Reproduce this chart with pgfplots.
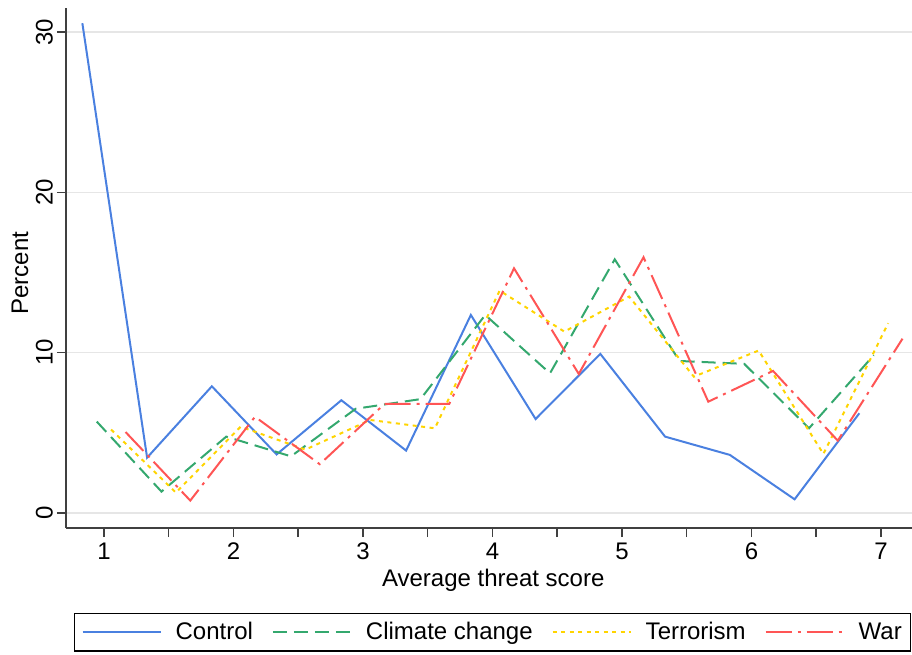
\documentclass[border=0pt]{standalone}
\usepackage{fontspec}
\setmainfont{Liberation Sans}
\usepackage{pgfplots}
\pgfplotsset{compat=1.18}
\definecolor{cblue}{RGB}{74,128,224}
\definecolor{cgreen}{RGB}{52,168,110}
\definecolor{cyellow}{RGB}{255,212,0}
\definecolor{cred}{RGB}{255,85,85}
\definecolor{axgray}{RGB}{64,64,64}
\definecolor{gridgray}{RGB}{230,230,230}
\begin{document}
\begin{tikzpicture}
\path[use as bounding box] (0,0) rectangle (912pt,654pt);
\begin{axis}[
  at={(66pt,126pt)}, anchor=south west,
  scale only axis, width=846pt, height=520pt,
  xmin=0.707, xmax=7.24, ymin=-0.94, ymax=31.5,
  axis x line*=bottom, axis y line*=left,
  axis line style={axgray, line width=1.5pt, -},
  xtick={1,2,3,4,5,6,7},
  minor xtick={1.5,2.5,3.5,4.5,5.5,6.5},
  ytick={0,10,20,30},
  tick align=outside,
  major tick length=9pt, minor tick length=9pt,
  every tick/.style={axgray, line width=1.5pt},
  ymajorgrids,
  major grid style={gridgray, line width=1.5pt},
  /pgf/number format/assume math mode=true,
  tick label style={font=\fontsize{24}{28}\selectfont, text=black},
  yticklabel style={rotate=90, anchor=south, inner sep=4pt},
  xticklabel style={inner sep=6pt},
  label style={font=\fontsize{24}{28}\selectfont},
  xlabel={Average threat score},
  ylabel={Percent},
  xlabel style={at={(axis description cs:0.505,-0.1)}, anchor=center},
  ylabel style={at={(axis description cs:-0.0544,0.49)}, anchor=center},
  legend columns=4,
  legend style={at={(axis description cs:0.00946,-0.1625)}, anchor=north west,
    draw=black, line width=1.2pt, font=\fontsize{24}{28}\selectfont,
    inner xsep=7pt, inner ysep=7.5pt,
    /tikz/every odd column/.append style={column sep=12pt},
    /tikz/every even column/.append style={column sep=17pt}},
  legend image code/.code={\draw[line width=2pt,#1] (0pt,0pt) -- (78pt,0pt);},
  clip=true,
]
\addplot[cblue, line width=2pt] coordinates {
(0.8333,30.55) (1.3333,3.45) (1.8333,7.9) (2.3333,3.65) (2.8333,7.03)
(3.3333,3.89) (3.8333,12.35) (4.3333,5.86) (4.8333,9.92) (5.3333,4.76)
(5.8333,3.62) (6.3333,0.85) (6.8333,6.22)};
\addlegendentry{Control}
\addplot[cgreen, line width=2pt, dash pattern=on 14pt off 7pt] coordinates {
(0.9444,5.7) (1.4444,1.33) (1.9444,4.76) (2.4444,3.53) (2.9444,6.5)
(3.4444,7.1) (3.9444,12.35) (4.4444,8.71) (4.9444,15.82) (5.4444,9.48)
(5.9444,9.3) (6.4444,5.28) (6.9444,9.84)};
\addlegendentry{Climate change}
\addplot[cyellow, line width=2pt, dash pattern=on 4pt off 4.5pt] coordinates {
(1.0556,5.2) (1.5556,1.27) (2.0556,5.38) (2.5556,3.95) (3.0556,5.8)
(3.5556,5.28) (4.0556,13.87) (4.5556,11.31) (5.0556,13.5) (5.5556,8.5)
(6.0556,10.13) (6.5556,3.68) (7.0556,11.83)};
\addlegendentry{Terrorism}
\addplot[cred, line width=2pt, dash pattern=on 26pt off 6pt on 3pt off 6pt] coordinates {
(1.1667,5.05) (1.6667,0.77) (2.1667,6.0) (2.6667,3.04) (3.1667,6.8)
(3.6667,6.8) (4.1667,15.26) (4.6667,8.67) (5.1667,15.95) (5.6667,6.94)
(6.1667,8.86) (6.6667,4.51) (7.1667,10.87)};
\addlegendentry{War}
\end{axis}
\end{tikzpicture}
\end{document}
